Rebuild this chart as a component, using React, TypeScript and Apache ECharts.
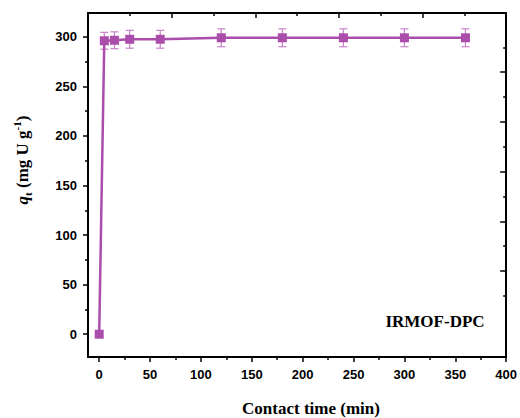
import React, { useEffect, useRef } from "react";
import * as echarts from "echarts";

const times = [0, 5, 15, 30, 60, 120, 180, 240, 300, 360];
const qt = [0, 296, 296.5, 297.5, 297.5, 299, 299, 299, 299, 299];
const qtErr = [0, 8.5, 8.5, 9, 9, 9, 9, 9, 9, 9];

const xMajorTicks = [0, 50, 100, 150, 200, 250, 300, 350, 400];
const xMinorTicks = [25, 75, 125, 175, 225, 275, 325, 375];
const yMajorTicks = [0, 50, 100, 150, 200, 250, 300];
const yMinorTicks = [25, 75, 125, 175, 225, 275];
const rightMajorTicks = [1, 2, 3, 4, 5];
const rightMinorTicks = [0.5, 1.5, 2.5, 3.5, 4.5, 5.5];

const seriesName = "IRMOF-DPC";
const xTitle = "Contact time (min)";

const PURPLE = "#AA4DAB";
const ERR = "#C783CA";
const SANS = "'Liberation Sans', Arial, sans-serif";
const SERIF = "'Liberation Serif', 'Times New Roman', serif";

export default function App() {
  const ref = useRef<HTMLDivElement>(null);
  useEffect(() => {
    if (!ref.current) return;
    const chart = echarts.init(ref.current, null, { renderer: "svg" });
    const axisLineStyle = { color: "#000", width: 2 };
    const lineStyle = { color: "#000", width: 1.5 };
    const label = { fontFamily: SANS, fontWeight: "bold", fontSize: 13, color: "#000" };
    const errData = times.map((t, i) => [t, qt[i] - qtErr[i], qt[i] + qtErr[i]]).filter((d, i) => qtErr[i] > 0);
    chart.setOption({
      animation: false,
      backgroundColor: "#fff",
      grid: { left: 88, right: 11, top: 13, bottom: 61, containLabel: false },
      xAxis: [
        {
          type: "value", position: "bottom", min: -11, max: 400,
          axisLine: { onZero: false, lineStyle: axisLineStyle },
          axisTick: { customValues: xMajorTicks, length: 5, lineStyle },
          axisLabel: { ...label, customValues: xMajorTicks, margin: 11 },
          splitLine: { show: false },
        },
        {
          type: "value", position: "bottom", min: -11, max: 400,
          axisLine: { show: false, onZero: false },
          axisTick: { customValues: xMinorTicks, length: 3, lineStyle },
          axisLabel: { show: false },
          splitLine: { show: false },
        },
        {
          type: "value", position: "top", min: 0, max: 5, interval: 1,
          axisLine: { onZero: false, lineStyle: axisLineStyle },
          axisTick: { inside: true, length: 5, lineStyle },
          minorTick: { show: true, splitNumber: 2, length: 3, lineStyle },
          axisLabel: { show: false },
          splitLine: { show: false },
        },
      ],
      yAxis: [
        {
          type: "value", position: "left", min: -23, max: 324,
          axisLine: { onZero: false, lineStyle: axisLineStyle },
          axisTick: { customValues: yMajorTicks, length: 5, lineStyle },
          axisLabel: { ...label, customValues: yMajorTicks, margin: 11 },
          splitLine: { show: false },
        },
        {
          type: "value", position: "left", min: -23, max: 324,
          axisLine: { show: false, onZero: false },
          axisTick: { customValues: yMinorTicks, length: 3, lineStyle },
          axisLabel: { show: false },
          splitLine: { show: false },
        },
        {
          type: "value", position: "right", min: -0.73, max: 6.19,
          axisLine: { onZero: false, lineStyle: axisLineStyle },
          axisTick: { customValues: rightMajorTicks, inside: true, length: 6, lineStyle },
          axisLabel: { show: false },
          splitLine: { show: false },
        },
        {
          type: "value", position: "right", min: -0.73, max: 6.19,
          axisLine: { show: false, onZero: false },
          axisTick: { customValues: rightMinorTicks, inside: true, length: 3, lineStyle },
          axisLabel: { show: false },
          splitLine: { show: false },
        },
      ],
      series: [
        {
          type: "custom",
          xAxisIndex: 0,
          yAxisIndex: 0,
          z: 1,
          data: errData,
          renderItem: (params: any, api: any) => {
            const x = api.value(0);
            const lo = api.coord([x, api.value(1)]);
            const hi = api.coord([x, api.value(2)]);
            const st = { stroke: ERR, lineWidth: 1.2 };
            const c = 4;
            return {
              type: "group",
              children: [
                { type: "line", shape: { x1: lo[0], y1: lo[1], x2: hi[0], y2: hi[1] }, style: st },
                { type: "line", shape: { x1: lo[0] - c, y1: lo[1], x2: lo[0] + c, y2: lo[1] }, style: st },
                { type: "line", shape: { x1: hi[0] - c, y1: hi[1], x2: hi[0] + c, y2: hi[1] }, style: st },
              ],
            };
          },
        },
        {
          name: seriesName,
          type: "line",
          xAxisIndex: 0,
          yAxisIndex: 0,
          z: 3,
          data: times.map((t, i) => [t, qt[i]]),
          symbol: "rect",
          symbolSize: 9,
          lineStyle: { color: PURPLE, width: 2.5 },
          itemStyle: { color: PURPLE },
        },
      ],
      graphic: [
        {
          type: "text",
          x: 311, y: 408,
          style: {
            text: xTitle, fontFamily: SERIF, fontWeight: "bold", fontSize: 17,
            fill: "#000", align: "center", verticalAlign: "middle",
          },
        },
        {
          type: "text",
          x: 435, y: 321,
          style: {
            text: seriesName, fontFamily: SERIF, fontWeight: "bold", fontSize: 17,
            fill: "#000", align: "center", verticalAlign: "middle",
          },
        },
        {
          type: "text",
          x: 22, y: 160,
          rotation: Math.PI / 2,
          style: {
            text: "{q|q}{sub|t}{b| (mg U g}{sup|-1}{b|)}",
            fontFamily: SERIF, fontWeight: "bold", fontSize: 17, fill: "#000",
            align: "center", verticalAlign: "middle",
            rich: {
              q: { fontFamily: SERIF, fontWeight: "bold", fontStyle: "italic", fontSize: 17, lineHeight: 22, fill: "#000" },
              b: { fontFamily: SERIF, fontWeight: "bold", fontSize: 17, lineHeight: 22, fill: "#000" },
              sub: { fontFamily: SERIF, fontWeight: "bold", fontSize: 11, lineHeight: 12, verticalAlign: "bottom", fill: "#000" },
              sup: { fontFamily: SERIF, fontWeight: "bold", fontSize: 11, lineHeight: 12, verticalAlign: "top", fill: "#000" },
            },
          },
        },
      ],
    });
    return () => chart.dispose();
  }, []);
  return <div ref={ref} style={{ position: "fixed", left: 0, top: 0, width: 520, height: 418 }} />;
}
